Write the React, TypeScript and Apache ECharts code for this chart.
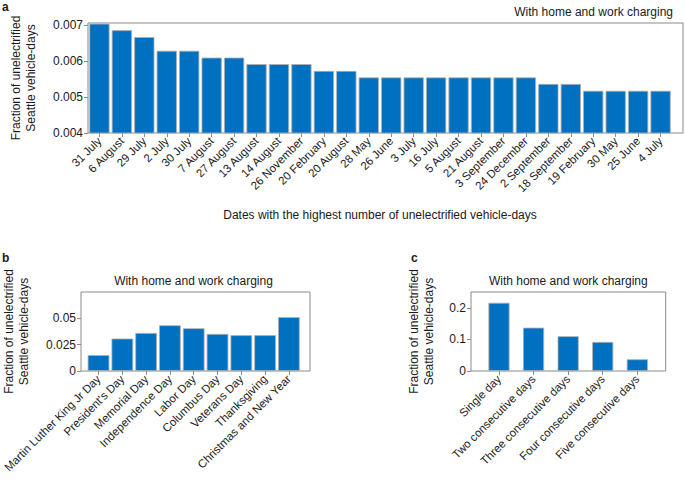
import React, { useEffect, useRef } from 'react';
import * as echarts from 'echarts';

const datesA = ['31 July', '6 August', '29 July', '2 July', '30 July', '7 August', '27 August', '13 August', '14 August', '26 November', '20 February', '20 August', '28 May', '26 June', '3 July', '16 July', '5 August', '21 August', '3 September', '24 December', '2 September', '18 September', '19 February', '30 May', '25 June', '4 July'];
const valuesA = [0.00703, 0.00685, 0.00666, 0.00628, 0.00628, 0.00609, 0.00609, 0.00591, 0.00591, 0.00591, 0.00572, 0.00572, 0.00554, 0.00554, 0.00554, 0.00554, 0.00554, 0.00554, 0.00554, 0.00554, 0.00536, 0.00536, 0.00517, 0.00517, 0.00517, 0.00517];
const ticksA = [0.004, 0.005, 0.006, 0.007];

const holidaysB = ['Martin Luther King Jr Day', "President's Day", 'Memorial Day', 'Independence Day', 'Labor Day', 'Columbus Day', 'Veterans Day', 'Thanksgiving', 'Christmas and New Year'];
const valuesB = [0.0151, 0.0308, 0.0361, 0.0434, 0.0406, 0.0352, 0.034, 0.034, 0.0512];
const ticksB = [0, 0.025, 0.05];

const spansC = ['Single day', 'Two consecutive days', 'Three consecutive days', 'Four consecutive days', 'Five consecutive days'];
const valuesC = [0.216, 0.137, 0.11, 0.092, 0.037];
const ticksC = [0, 0.1, 0.2];

const TITLE = 'With home and work charging';
const YNAME = 'Fraction of unelectrified\nSeattle vehicle-days';
const FONT = '"Liberation Sans", Arial, Helvetica, sans-serif';
const TEXT = '#1a1a1a';
const GRAY = '#8a8a8a';
const BLUE = '#0070c0';

export default function App() {
  const ref = useRef<HTMLDivElement>(null);
  useEffect(() => {
    document.body.style.margin = '0';
    if (!ref.current) return;
    const chart = echarts.init(ref.current, null, { renderer: 'svg' });

    const frames = [
      { left: 77, top: 23, width: 606, height: 110 },
      { left: 77, top: 292, width: 233, height: 79 },
      { left: 471, top: 292, width: 194.7, height: 79 },
    ];
    const inner = [
      { left: 88.2, top: 23, width: 583.6, height: 110 },
      { left: 86.2, top: 292, width: 214.6, height: 79 },
      { left: 481.7, top: 292, width: 172.9, height: 79 },
    ];
    const cats = [datesA, holidaysB, spansC];
    const vals = [valuesA, valuesB, valuesC];
    const ticks = [ticksA, ticksB, ticksC];
    const ranges = [[0.004, 0.00705], [0, 0.075], [0, 0.25]];
    const nameGaps = [50, 50, 35];
    const gaps = ['10%', '9%', '39%'];

    const grid: any[] = [];
    const xAxis: any[] = [];
    const yAxis: any[] = [];
    const series: any[] = [];
    for (let i = 0; i < 3; i++) {
      grid.push({ ...frames[i], show: true, borderColor: GRAY, borderWidth: 1, backgroundColor: 'transparent', containLabel: false });
      grid.push({ ...inner[i], show: false, containLabel: false });
      const fg = i * 2;
      const dg = i * 2 + 1;
      xAxis.push({ type: 'value', gridIndex: fg, show: false, min: 0, max: 1 });
      yAxis.push({
        type: 'value', gridIndex: fg, min: ranges[i][0], max: ranges[i][1],
        axisLine: { show: false },
        splitLine: { show: false },
        axisTick: { show: true, length: 4, lineStyle: { color: GRAY }, customValues: ticks[i] },
        axisLabel: {
          customValues: ticks[i], margin: 5, fontSize: 12, color: TEXT, fontFamily: FONT,
          formatter: (v: number) => (i === 0 ? v.toFixed(3) : String(+v.toFixed(4))),
        },
        name: YNAME, nameLocation: 'middle', nameGap: nameGaps[i], nameRotate: 90,
        nameTextStyle: { fontSize: 12, lineHeight: 15, color: TEXT, fontFamily: FONT, align: 'center' },
      });
      xAxis.push({
        type: 'category', gridIndex: dg, data: cats[i],
        axisLine: { show: false },
        axisTick: { show: true, alignWithLabel: true, length: 4, lineStyle: { color: GRAY } },
        axisLabel: { interval: 0, rotate: 45, fontSize: 11.5, color: TEXT, fontFamily: FONT, margin: 6 },
        ...(i === 0
          ? { name: 'Dates with the highest number of unelectrified vehicle-days', nameLocation: 'middle', nameGap: 76, nameTextStyle: { fontSize: 12, color: TEXT, fontFamily: FONT } }
          : {}),
      });
      yAxis.push({ type: 'value', gridIndex: dg, show: false, min: ranges[i][0], max: ranges[i][1] });
      series.push({
        type: 'bar', xAxisIndex: i * 2 + 1, yAxisIndex: i * 2 + 1, data: vals[i],
        barCategoryGap: gaps[i],
        itemStyle: { color: BLUE, borderColor: '#b0b0b0', borderWidth: 0.8 },
        silent: true,
      });
    }

    const textStyle = (t: string, extra: any = {}) => ({ text: t, fontSize: 12, fill: TEXT, fontFamily: FONT, ...extra });
    chart.setOption({
      animation: false,
      grid, xAxis, yAxis, series,
      graphic: [
        { type: 'text', x: 2, y: 1, style: textStyle('a', { fontWeight: 'bold', verticalAlign: 'top' }) },
        { type: 'text', x: 2, y: 252, style: textStyle('b', { fontWeight: 'bold', verticalAlign: 'top' }) },
        { type: 'text', x: 411, y: 252, style: textStyle('c', { fontWeight: 'bold', verticalAlign: 'top' }) },
        { type: 'text', x: 673, y: 12, style: textStyle(TITLE, { align: 'right', verticalAlign: 'middle' }) },
        { type: 'text', x: 193.5, y: 281, style: textStyle(TITLE, { align: 'center', verticalAlign: 'middle' }) },
        { type: 'text', x: 568.3, y: 281, style: textStyle(TITLE, { align: 'center', verticalAlign: 'middle' }) },
      ],
    });
    return () => chart.dispose();
  }, []);
  return <div ref={ref} style={{ width: 685, height: 482 }} />;
}
